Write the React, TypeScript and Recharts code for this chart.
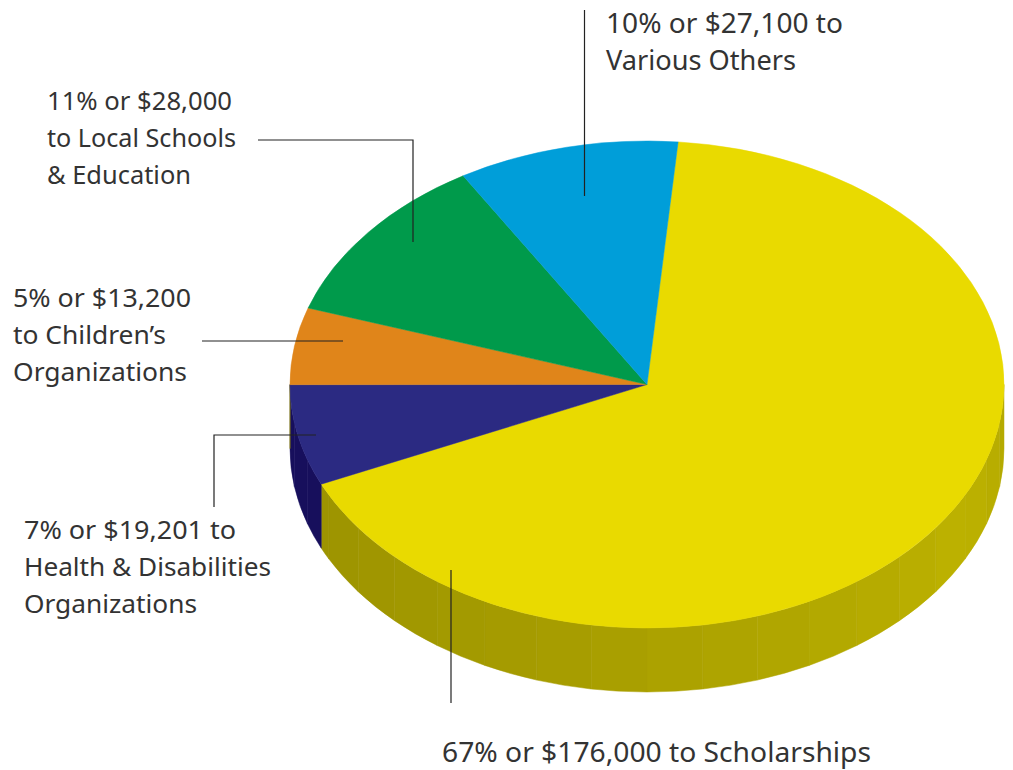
import { PieChart, Pie, Sector } from 'recharts';

const categories = ['Scholarships', 'Health & Disabilities', "Children's", 'Local Schools', 'Various Others'];
// slice sizes as drawn in the picture, slightly off the rounded percents of the labels
const shares = [66.9, 6.7, 5.1, 11.3, 10.0];
const colors = ['#e9da00', '#2b2a82', '#e0851a', '#009a4b', '#009ed9'];
const wallColors = ['', '#170f5c', '', '', ''];

const labelLines = [
  ['67% or $176,000 to Scholarships'],
  ['7% or $19,201 to', 'Health & Disabilities', 'Organizations'],
  ['5% or $13,200', 'to Children\u2019s', 'Organizations'],
  ['11% or $28,000', 'to Local Schools', '& Education'],
  ['10% or $27,100 to', 'Various Others'],
];

const data = categories.map((name, i) => ({ name, value: shares[i], fill: colors[i], wall: wallColors[i] }));

// layout of the texts and leader lines, same order as the categories
const labelAt = [[442, 762], [24, 539], [13, 307], [47, 110], [606, 33]];
const labelSize = [27, 26, 26, 26, 27];
const lineWidths = [[429], [212, 247, 173], [178, 153, 174], [185, 189, 144], [237, 190]];
const leaders = [
  '451,570 451,703',
  '214,507 214,435 316,435',
  '202,341 343,341',
  '258,140 413,140 413,242',
  '584.5,10 584.5,196',
];

const CX = 647;
const CY = 384.5;
const RADIUS = 357;
const TILT = 243.5 / 357;
const DEPTH = 64;
const BAND = 9;

function TopSector(props: any) {
  const { cx, cy, startAngle, endAngle, outerRadius, fill } = props;
  return (
    <g transform={`translate(${cx} ${cy}) scale(1 ${TILT}) translate(${-cx} ${-cy})`}>
      <Sector
        cx={cx}
        cy={cy}
        innerRadius={0}
        outerRadius={outerRadius}
        startAngle={startAngle}
        endAngle={endAngle}
        fill={fill}
        stroke={fill}
        strokeWidth={0.6}
      />
    </g>
  );
}

// dark olive on the left, lightest low on the right, a little darker at the far edge
function wallShade(angle: number) {
  const t = (angle + 180) / 180;
  const k = t < 0.85 ? Math.pow(t / 0.85, 1.5) : 1 - ((t - 0.85) / 0.15) * 0.3;
  const r = Math.round(0x9b + (0xbd - 0x9b) * k);
  const g = Math.round(0x92 + (0xb2 - 0x92) * k);
  return `rgb(${r},${g},0)`;
}

// side of the disc: only the part of a slice under the horizontal axis shows
function WallSector(props: any) {
  const { cx, cy, startAngle, endAngle, outerRadius, payload } = props;
  const from = Math.min(startAngle, 0);
  const to = Math.max(endAngle, -180);
  if (from <= to) return null;
  const ry = outerRadius * TILT;
  const pt = (a: number, dy = 0) => {
    const rad = (a * Math.PI) / 180;
    return `${cx + outerRadius * Math.cos(rad)} ${cy - ry * Math.sin(rad) + dy}`;
  };
  const bands = [];
  let a = from;
  while (a > to) {
    // bands stay on a fixed grid so that they read like the faceted original
    const next = Math.max(to, (Math.ceil(a / BAND) - 1) * BAND);
    const fill = payload.wall || wallShade((a + next) / 2);
    bands.push(
      <path
        key={a}
        d={`M${pt(a)} A${outerRadius} ${ry} 0 0 1 ${pt(next)} L${pt(next, DEPTH)} A${outerRadius} ${ry} 0 0 0 ${pt(a, DEPTH)} Z`}
        fill={fill}
        stroke={fill}
        strokeWidth={0.5}
      />
    );
    a = next;
  }
  return <g>{bands}</g>;
}

function SliceLabel(props: any) {
  const i = props.index;
  const [x, y] = labelAt[i];
  return (
    <g>
      <polyline points={leaders[i]} fill="none" stroke="#222" strokeWidth={1.2} />
      {labelLines[i].map((line, n) => (
        <text
          key={n}
          x={x}
          y={y + n * 37}
          fontFamily="'Noto Sans', sans-serif"
          fontSize={labelSize[i]}
          fill="#333"
          textLength={lineWidths[i][n]}
          lengthAdjust="spacingAndGlyphs"
        >
          {line}
        </text>
      ))}
    </g>
  );
}

export default function App() {
  return (
    <div style={{ margin: '-8px -8px 0', width: 1013, height: 770, background: '#fff' }}>
      <PieChart width={1013} height={770} margin={{ top: 0, right: 0, bottom: 0, left: 0 }}>
        <Pie
          data={data}
          dataKey="value"
          cx={CX}
          cy={CY}
          outerRadius={RADIUS}
          startAngle={85}
          endAngle={-275}
          shape={WallSector}
          isAnimationActive={false}
        />
        <Pie
          data={data}
          dataKey="value"
          cx={CX}
          cy={CY}
          outerRadius={RADIUS}
          startAngle={85}
          endAngle={-275}
          shape={TopSector}
          label={SliceLabel}
          labelLine={false}
          isAnimationActive={false}
        />
      </PieChart>
    </div>
  );
}
